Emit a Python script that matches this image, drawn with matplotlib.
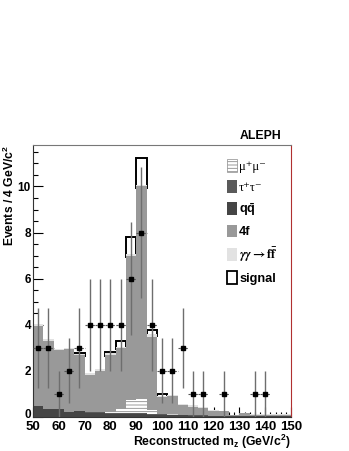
import numpy as np
import matplotlib
matplotlib.use('Agg')
import matplotlib.pyplot as plt
from matplotlib.patches import Patch
from matplotlib.ticker import MultipleLocator
from matplotlib.transforms import ScaledTranslation

plt.rcParams['font.family'] = ['Liberation Sans', 'DejaVu Sans']
plt.rcParams['font.weight'] = 'bold'
plt.rcParams['mathtext.fontset'] = 'custom'
plt.rcParams['mathtext.rm'] = 'Liberation Sans:bold'
plt.rcParams['mathtext.bf'] = 'Liberation Sans:bold'
plt.rcParams['mathtext.it'] = 'Liberation Sans:bold'
plt.rcParams['hatch.linewidth'] = 0.6

# 4 GeV bins from 50 to 150
edges = np.arange(50, 151, 4)
centers = edges[:-1] + 2

# Background components (stacked, bottom to top)
qqbar = [0.45, 0.32, 0.32, 0.20, 0.25, 0.18, 0.17, 0.12, 0.12, 0.10, 0.10, 0.08, 0.07,
         0.07, 0.06, 0.05, 0.05, 0.04, 0.04, 0.03, 0.03, 0.02, 0.02, 0.02, 0.02]
tautau = [0.02, 0.02, 0.02, 0.02, 0.02, 0.03, 0.03, 0.04, 0.05, 0.06, 0.06, 0.05, 0.03,
          0.02, 0.02, 0.01, 0.01, 0.01, 0.01, 0.01, 0.01, 0.00, 0.00, 0.00, 0.00]
mumu = [0.00, 0.00, 0.00, 0.00, 0.00, 0.00, 0.00, 0.06, 0.15, 0.55, 0.60, 0.15, 0.03,
        0.02, 0.00, 0.00, 0.00, 0.00, 0.00, 0.00, 0.00, 0.00, 0.00, 0.00, 0.00]
fourf = [3.48, 2.96, 2.54, 2.70, 2.41, 1.59, 1.80, 2.48, 2.68, 6.29, 9.24, 3.20, 0.72,
         0.79, 0.44, 0.38, 0.34, 0.22, 0.18, 0.03, 0.12, 0.06, 0.04, 0.04, 0.04]
gamgam = [0.08, 0.06, 0.05, 0.05, 0.04, 0.08, 0.06, 0.05, 0.05, 0.05, 0.05, 0.12, 0.04,
          0.06, 0.04, 0.05, 0.03, 0.03, 0.03, 0.02, 0.02, 0.02, 0.06, 0.06, 0.06]
signal = [0.00, 0.00, 0.00, 0.00, 0.03, 0.00, 0.00, 0.08, 0.25, 0.75, 1.20, 0.16, 0.08,
          0.00, 0.00, 0.00, 0.00, 0.00, 0.00, 0.00, 0.00, 0.00, 0.00, 0.00, 0.00]

# Data counts per bin
data = [3, 3, 1, 2, 3, 4, 4, 4, 4, 6, 8, 4, 2, 2, 3, 1, 1, 0, 1, 0, 0, 1, 1, 0, 0]
yticks = [0, 2, 4, 6, 8, 10]

fig = plt.figure(figsize=(3.49, 4.51), dpi=100)
ax = fig.add_axes([0.0946, 0.0760, 0.7393, 0.6024])

bg_total = np.sum([qqbar, tautau, mumu, fourf, gamgam], axis=0)

# signal stacked on top of the background, outline only; the box reaches a bit
# into the background so the backgrounds drawn afterwards hide its lower edge
sig = np.array(signal)
m_sig = sig > 0
ax.bar(edges[:-1][m_sig], sig[m_sig] + 0.1, width=4, align='edge',
       bottom=bg_total[m_sig] - 0.1, facecolor='none', edgecolor='black',
       linewidth=1.4, zorder=1)

layers = [
    (qqbar, '#454545', None, '#454545'),
    (tautau, '#5a5a5a', '::', '#9a9a9a'),
    (mumu, 'white', '-----', '#8a8a8a'),
    (fourf, '#999999', None, '#999999'),
    (gamgam, '#e2e2e2', None, '#e2e2e2'),
]
bottom = np.zeros(len(centers))
for vals, col, hatch, ecol in layers:
    ax.bar(edges[:-1], vals, width=4, align='edge', bottom=bottom, color=col,
           hatch=hatch, edgecolor=ecol, linewidth=0, zorder=2)
    bottom = bottom + np.array(vals)

# data points with sqrt(N) errors
d = np.array(data, dtype=float)
m = d > 0
ax.vlines(centers[m], d[m] - np.sqrt(d[m]), d[m] + np.sqrt(d[m]), color='#6e6e6e',
          linewidth=1.0, zorder=4)
ax.hlines(d[m], centers[m] - 2, centers[m] + 2, color='#555555', linewidth=0.8,
          linestyles=(0, (2, 1.2)), zorder=4)
ax.plot(centers[m], d[m], 's', color='black', markersize=2.5, zorder=5)

ax.set_xlim(50, 150)
ax.set_ylim(0, 11.8)
ax.xaxis.set_major_locator(MultipleLocator(10))
ax.xaxis.set_minor_locator(MultipleLocator(2))
ax.set_yticks(yticks)
ax.yaxis.set_minor_locator(MultipleLocator(0.5))
ax.tick_params(which='both', direction='in', top=False, right=False, width=0.8)
ax.tick_params(which='major', length=7)
ax.tick_params(which='minor', length=3.5)
ax.tick_params(axis='y', pad=1.5, labelsize=8.5)
ax.tick_params(axis='x', pad=3.0, labelsize=9.5)
for lab in ax.get_xticklabels() + ax.get_yticklabels():
    lab.set_fontweight('bold')

# lift the "0" label a little so it clears the "50" below it
zero_lab = ax.yaxis.get_major_ticks()[0].label1
zero_lab.set_transform(zero_lab.get_transform()
                       + ScaledTranslation(0, 3 / 100, fig.dpi_scale_trans))

ax.spines['top'].set_color('#777777')
ax.spines['right'].set_color('#b03030')
ax.spines['left'].set_color('#333333')
ax.spines['bottom'].set_color('#333333')

ax.set_ylabel('Events / 4 GeV/c$^2$', loc='top', fontsize=8.7, fontweight='bold')
ax.yaxis.set_label_coords(-0.062, 1.0)
ax.set_xlabel('Reconstructed m$_z$ (GeV/c$^2$)', loc='right', fontsize=8.8,
              fontweight='bold')
ax.xaxis.set_label_coords(1.0, -0.06)

fig.text(281 / 349, 1 - 136 / 451, 'ALEPH', ha='right', va='center',
         fontsize=8.8, fontweight='bold')

handles = [
    Patch(facecolor='white', edgecolor='#8a8a8a', hatch='-----', linewidth=0.5),
    Patch(facecolor='#5a5a5a', edgecolor='#9a9a9a', hatch='::', linewidth=0),
    Patch(facecolor='#454545', edgecolor='#454545', linewidth=0),
    Patch(facecolor='#999999', edgecolor='#999999', linewidth=0),
    Patch(facecolor='#e2e2e2', edgecolor='#e2e2e2', linewidth=0),
    Patch(facecolor='white', edgecolor='black', linewidth=1.3),
]
labels = ['μ⁺μ⁻', 'τ⁺τ⁻', r'$\mathbf{q\bar{q}}$', '4f',
          r'$\gamma\gamma \rightarrow \mathbf{f\bar{f}}$', 'signal']
leg = ax.legend(handles, labels, loc='upper left', bbox_to_anchor=(0.752, 0.947),
                frameon=False, fontsize=9.2, handlelength=0.8, handleheight=1.15,
                handletextpad=0.15, labelspacing=0.55, borderpad=0, borderaxespad=0)
texts = leg.get_texts()
for t in texts[:2]:
    t.set_fontfamily(['Liberation Serif', 'DejaVu Serif'])
    t.set_fontweight('normal')
texts[4].set_math_fontfamily('stix')
texts[4].set_fontweight('normal')

fig.savefig('out.png', dpi=100)
